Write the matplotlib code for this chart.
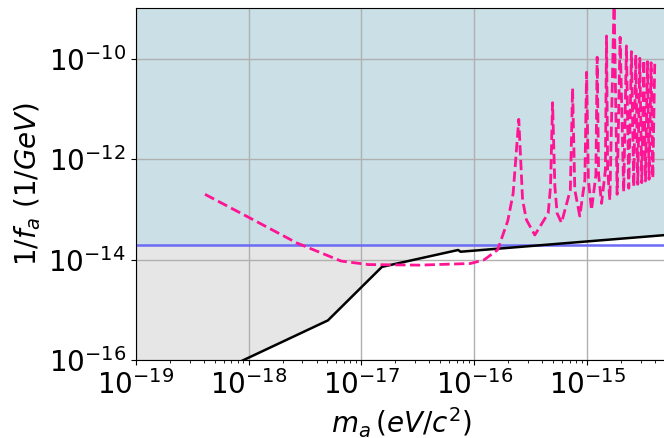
import matplotlib
matplotlib.use('Agg')
import matplotlib.pyplot as plt
import numpy as np
from matplotlib.ticker import NullLocator, LogLocator

# limite horizontale (ligne bleue)
fa_limit = 2e-14

# contrainte (ligne noire)
black_m = [1e-19, 8.97e-19, 5.05e-18, 1.52e-17, 7.2e-17, 7.56e-17, 5e-15]
black_f = [9e-18, 1e-16, 6.2e-16, 7.2e-15, 1.56e-14, 1.44e-14, 3.1e-14]

# sensibilite (courbe rose en pointilles)
pink_m = [4.11e-19, 1.01e-18, 2.68e-18, 6.6e-18, 1.15e-17, 3.26e-17, 9.25e-17,
          1.22e-16, 1.61e-16, 1.98e-16, 2.21e-16, 2.48e-16, 2.68e-16, 2.90e-16,
          3.44e-16, 4.52e-16, 4.74e-16, 4.94e-16, 5.18e-16, 5.42e-16,
          5.93e-16, 7.10e-16, 7.43e-16, 7.78e-16,
          8.61e-16, 9.55e-16, 9.89e-16, 1.026e-15,
          1.094e-15, 1.196e-15, 1.227e-15, 1.265e-15,
          1.343e-15, 1.452e-15, 1.486e-15, 1.52e-15,
          1.59e-15, 1.734e-15, 1.845e-15, 1.96e-15, 2.11e-15, 2.23e-15,
          2.34e-15, 2.47e-15, 2.59e-15, 2.70e-15, 2.81e-15, 2.93e-15,
          3.05e-15, 3.18e-15, 3.29e-15, 3.43e-15, 3.54e-15, 3.69e-15,
          3.82e-15, 3.98e-15]
pink_f = [2.0e-13, 6.9e-14, 2.15e-14, 9.4e-15, 8.0e-15, 7.8e-15, 8.4e-15,
          9.9e-15, 1.57e-14, 5.9e-14, 2.07e-13, 6.2e-12, 1.54e-13, 6.2e-14,
          3.1e-14, 8.4e-14, 2.84e-13, 1.33e-11, 2.84e-13, 8.4e-14,
          5.44e-14, 2.44e-13, 2.58e-11, 2.44e-13,
          7.4e-14, 3.86e-13, 5.36e-11, 3.86e-13,
          9.75e-14, 4.85e-13, 1.07e-10, 4.85e-13,
          1.32e-13, 6.1e-13, 2.83e-10, 6.1e-13,
          1.54e-13, 1.5e-9, 2.0e-13, 2.67e-10, 2.25e-13, 1.79e-10,
          2.64e-13, 1.38e-10, 2.84e-13, 1.19e-10, 3.17e-13, 1.02e-10,
          3.41e-13, 9.4e-11, 3.68e-13, 8.7e-11, 3.98e-13, 8.3e-11,
          4.17e-13, 9.7e-11]

xticks = [1e-19, 1e-18, 1e-17, 1e-16, 1e-15]
yticks = [1e-16, 1e-14, 1e-12, 1e-10]

fig = plt.figure(figsize=(6.64, 4.38), dpi=100)
ax = fig.add_axes([0.2044, 0.1776, 0.7986, 0.8032])
ax.set_xscale('log')
ax.set_yscale('log')
ax.set_xlim(1e-19, 5e-15)
ax.set_ylim(1e-16, 1e-9)

# zones colorees
ax.set_facecolor('#e6e6e6')
ax.axhspan(fa_limit, 1e-9, color='#cadfe6', lw=0)
ax.fill_between(black_m, 1e-20, black_f, color='white', lw=0)

ax.axhline(fa_limit, color='#6b6bf5', lw=1.8)
ax.plot(black_m, black_f, color='black', lw=1.8)
ax.plot(pink_m, pink_f, color='#ff1493', lw=2, ls='--')

ax.set_xticks(xticks)
ax.set_yticks(yticks)
ax.xaxis.set_minor_locator(LogLocator(base=10, subs=np.arange(2, 10)))
ax.yaxis.set_minor_locator(NullLocator())
ax.tick_params(labelsize=20)
ax.grid(True, which='major', color='#b0b0b0', lw=1)

ax.set_xlabel(r'$m_a\,(eV/c^2)$', fontsize=20)
ax.set_ylabel(r'$1/f_a\ (1/GeV)$', fontsize=20)

fig.savefig('out.png', dpi=100)
